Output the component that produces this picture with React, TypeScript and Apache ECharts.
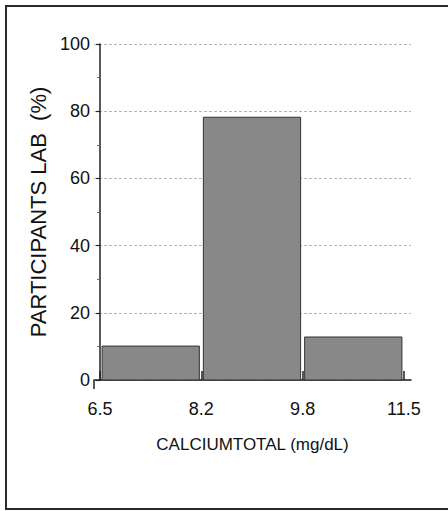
import React, { useEffect, useRef } from "react";
import * as echarts from "echarts";

const binEdges = ["6.5", "8.2", "9.8", "11.5"];
const binValues = [10.1, 78.2, 12.8];
const yTicks = [0, 20, 40, 60, 80, 100];
const xTitle = "CALCIUMTOTAL (mg/dL)";
const yTitle = "PARTICIPANTS LAB  (%)";

const FONT = "'Liberation Sans Narrow', 'Liberation Sans', Arial, sans-serif";

export default function App() {
  const ref = useRef<HTMLDivElement>(null);
  useEffect(() => {
    if (!ref.current) return;
    const chart = echarts.init(ref.current, null, { renderer: "svg" });
    const data = binValues.map((v, i) => [i, i + 1, v]);
    const frame = {
      type: "rect",
      shape: { x: 6, y: 6, width: 460, height: 503 },
      style: { fill: "none", stroke: "#2a2a2a", lineWidth: 2 },
      silent: true,
    };
    chart.setOption({
      animation: false,
      backgroundColor: "#ffffff",
      grid: { left: 94, right: 37, top: 44, bottom: 131 },
      xAxis: {
        type: "value",
        min: -0.06,
        max: 3.07,
        offset: 9,
        name: xTitle,
        nameLocation: "middle",
        nameGap: 47,
        nameTextStyle: { fontFamily: FONT, fontSize: 17, color: "#111" },
        axisLine: { show: true, lineStyle: { color: "#222", width: 1.5 } },
        axisTick: {
          show: true,
          inside: true,
          length: 9,
          customValues: [0, 1, 2, 3],
          lineStyle: { color: "#222", width: 1.5 },
        },
        axisLabel: {
          customValues: [0, 1, 2, 3],
          formatter: (v: number) => binEdges[Math.round(v)] ?? "",
          fontFamily: FONT,
          fontSize: 18,
          color: "#111",
          margin: 11,
        },
        splitLine: { show: false },
      },
      yAxis: {
        type: "value",
        min: 0,
        max: 100,
        interval: 20,
        name: yTitle,
        nameLocation: "middle",
        nameGap: 44,
        nameRotate: 90,
        nameTextStyle: { fontFamily: "'Liberation Sans', Arial, sans-serif", fontSize: 22, color: "#111" },
        axisLine: { show: true, lineStyle: { color: "#222", width: 1.5 } },
        axisTick: { show: true, inside: false, length: 4, lineStyle: { color: "#222", width: 1.2 } },
        minorTick: { show: true, splitNumber: 2, length: 3, lineStyle: { color: "#666" } },
        axisLabel: {
          formatter: (v: number) => (yTicks.includes(v) ? String(v) : ""),
          fontFamily: FONT,
          fontSize: 18,
          color: "#111",
          margin: 4,
        },
        splitLine: { show: true, lineStyle: { color: "#b5b5b5", type: [3, 2], width: 1 } },
      },
      series: [
        {
          type: "custom",
          data,
          encode: { x: [0, 1], y: 2 },
          renderItem: (params: any, api: any) => {
            const s = api.coord([api.value(0), 0]);
            const e = api.coord([api.value(1), api.value(2)]);
            return {
              type: "rect",
              shape: { x: s[0] + 2, y: e[1], width: e[0] - s[0] - 4, height: s[1] - e[1] },
              style: { fill: "#888888", stroke: "#333333", lineWidth: 1 },
            };
          },
        },
      ],
      graphic: [frame],
    });
    const p0 = chart.convertToPixel({ gridIndex: 0 }, [-0.06, 0]) as number[];
    chart.setOption({
      graphic: [
        frame,
        {
          type: "line",
          shape: { x1: p0[0], y1: p0[1], x2: p0[0], y2: p0[1] + 9 },
          style: { stroke: "#222", lineWidth: 1.5 },
          silent: true,
        },
      ],
    });
    return () => chart.dispose();
  }, []);
  return (
    <div
      ref={ref}
      style={{ position: "fixed", left: 0, top: 0, width: 448, height: 511 }}
    />
  );
}
